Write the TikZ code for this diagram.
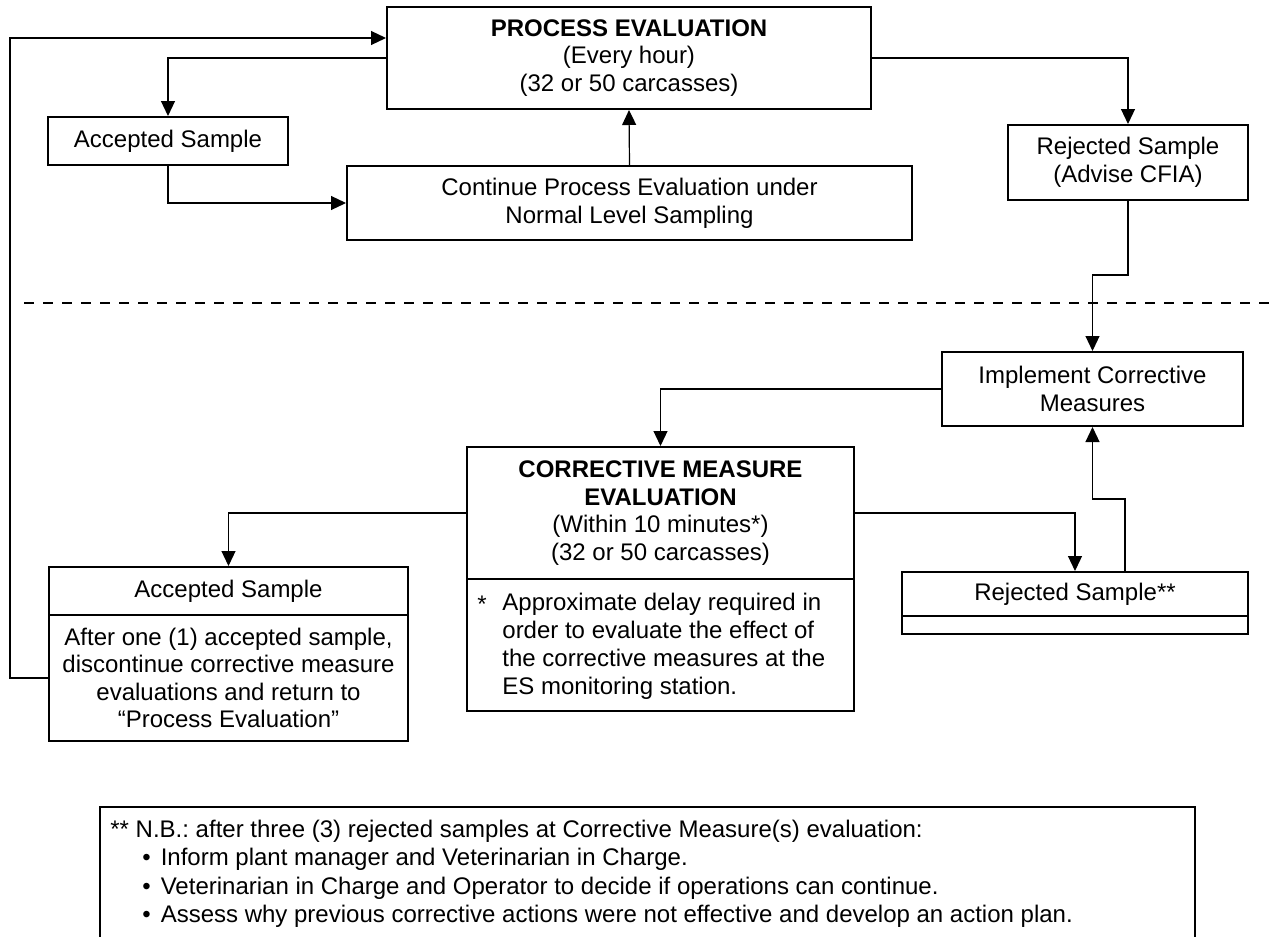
\documentclass[tikz,border=0pt]{standalone}
\usepackage{fontspec}
\setmainfont{Liberation Sans}
\usetikzlibrary{arrows.meta}
\frenchspacing
\begin{document}
\begin{tikzpicture}[x=0.5pt,y=-0.5pt,
  box/.style={draw,line width=1pt,inner sep=0pt,align=center,
    font=\fontsize{12pt}{13.8pt}\selectfont,
    execute at begin node={\vspace*{3pt}}},
  txt/.style={inner sep=0pt,align=left,font=\fontsize{12pt}{14pt}\selectfont},
  link/.style={line width=0.6pt,-{Triangle[length=7.5pt,width=7pt]}},
  sep/.style={line width=1pt,dash pattern=on 5pt off 4.5pt}]
\useasboundingbox (0,0) rectangle (1269,937);

% upper section: routine process evaluation
\node[box,minimum width=242pt,minimum height=51pt] (pe) at (629,58)
  {\textbf{PROCESS EVALUATION}\\(Every hour)\\(32 or 50 carcasses)};
\node[box,minimum width=120pt,minimum height=24pt] (acc1) at (168,141) {Accepted Sample};
\node[box,minimum width=282.5pt,minimum height=37pt] (cont) at (629.5,203)
  {Continue Process Evaluation under\\Normal Level Sampling};
\node[box,minimum width=120pt,minimum height=37.5pt] (rej1) at (1128,162.5)
  {Rejected Sample\\(Advise CFIA)};

% lower section: corrective measures
\node[box,minimum width=150.5pt,minimum height=37pt] (impl) at (1092.5,389)
  {Implement Corrective\\Measures};
\node[box,minimum width=193.5pt,minimum height=66pt] (cmeA) at (660.5,513)
  {\textbf{CORRECTIVE MEASURE}\\\textbf{EVALUATION}\\(Within 10 minutes*)\\(32 or 50 carcasses)};
\node[box,minimum width=193.5pt,minimum height=66pt] (cmeB) at (660.5,645) {};
\node[txt] (star) at (482,604) {*};
\node[txt,anchor=west] (note) at (502,646)
  {Approximate delay required in\\order to evaluate the effect of\\the corrective measures at the\\ES monitoring station.};
\node[box,minimum width=179.5pt,minimum height=24pt] (acc2a) at (228.5,591) {Accepted Sample};
\node[box,minimum width=179.5pt,minimum height=63pt] (acc2b) at (228.5,678)
  {After one (1) accepted sample,\\discontinue corrective measure\\evaluations and return to\\“Process Evaluation”};
\node[box,minimum width=173pt,minimum height=22pt] (rej2a) at (1075,594) {Rejected Sample**};
\node[box,minimum width=173pt,minimum height=9pt] (rej2b) at (1075,625) {};

% divider between the two sections
\coordinate (dl) at (24,303);
\coordinate (dr) at (1269,303);
\draw[sep] (dl) -- (dr);

% connectors
\draw[link] (pe.west) -| (acc1.north);
\draw[link] (acc1.south) |- (cont.west);
\draw[link] (cont.north) -- (pe.south);
\draw[link] (pe.east) -| (rej1.north);
\draw[link] (rej1.south) -- (1128,275) -| (impl.north);
\draw[link] (impl.west) -| (cmeA.north);
\draw[link] (cmeA.west) -| (acc2a.north);
\draw[link] (cmeA.east) -| (rej2a.north);
\draw[link] (1125,0 |- rej2a.north) -- (1125,499) -| (impl.south);
\draw[link] (acc2b.west) -- (10,678) -- (10,38) -- (pe.west |- 0,38);

% footnote frame
\coordinate (nbl) at (100,937);
\coordinate (nbr) at (1195,937);
\draw[line width=1pt] (nbl) -- (100,807) -- (1195,807) -- (nbr);
\node[txt,anchor=west] (nb0) at (110,831)
  {** N.B.: after three (3) rejected samples at Corrective Measure(s) evaluation:};
\node[txt,anchor=west] (nb1) at (142,859)
  {•\hspace{5pt}Inform plant manager and Veterinarian in Charge.};
\node[txt,anchor=west] (nb2) at (142,888)
  {•\hspace{5pt}Veterinarian in Charge and Operator to decide if operations can continue.};
\node[txt,anchor=west] (nb3) at (142,916)
  {•\hspace{5pt}Assess why previous corrective actions were not effective and develop an action plan.};
\end{tikzpicture}
\end{document}
